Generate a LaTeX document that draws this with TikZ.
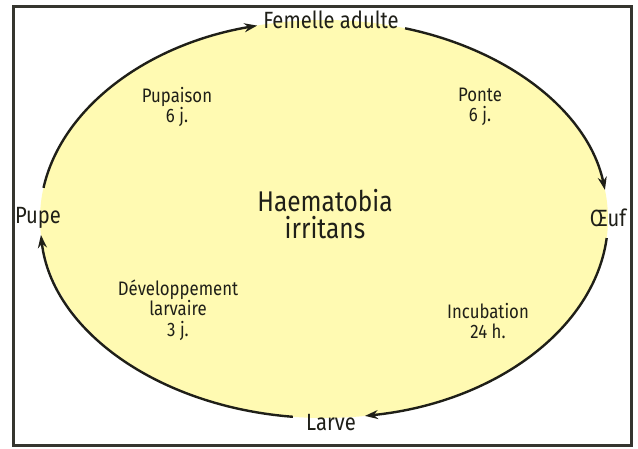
\documentclass[tikz,border=0pt]{standalone}
\usepackage{fontspec}
\setmainfont[FakeStretch=0.86]{Fira Sans}
\usetikzlibrary{arrows.meta,calc}
\definecolor{eggyel}{HTML}{FFFAB2}
\definecolor{ink}{HTML}{1F1F18}
\begin{document}
\begin{tikzpicture}[x=1pt,y=1pt,
  lbl/.style={text=ink,font=\fontsize{19.5}{20.5}\selectfont,align=center,inner sep=0pt},
  stagelbl/.style={text=ink,font=\fontsize{23.5}{24}\selectfont,inner sep=0pt},
  cyc/.style={draw=ink,line width=2.4pt,-{Stealth[length=13pt,width=9pt]}}]
\useasboundingbox (0,0) rectangle (638,448);
\fill[white] (0,0) rectangle (638,448);
\coordinate (C) at (324,229);
\fill[eggyel] (C) ellipse[x radius=284,y radius=199];
\draw[draw=ink!90,line width=3pt] (13,441) rectangle (631,3);
% cycle arcs
\draw[cyc] ($(C)+(171:284 and 199)$) arc[start angle=171,end angle=103.6,x radius=284,y radius=199];
\draw[cyc] ($(C)+(73.4:284 and 199)$) arc[start angle=73.4,end angle=8.4,x radius=284,y radius=199];
\draw[cyc] ($(C)+(-5.5:284 and 199)$) arc[start angle=-5.5,end angle=-81.7,x radius=284,y radius=199];
\draw[cyc] ($(C)+(-96.3:284 and 199)$) arc[start angle=-96.3,end angle=-175.4,x radius=284,y radius=199];
% stage labels
\node[stagelbl] (fem) at (331,428) {Femelle adulte};
\node[stagelbl] (oeuf) at (608,230) {Œuf};
\node[stagelbl] (larve) at (331,25) {Larve};
\node[stagelbl] (pupe) at (38,230) {Pupe};
% centre
\node[lbl,font=\fontsize{28.5}{27}\selectfont] (name) at (325,234) {Haematobia\\irritans};
% durations
\node[lbl] (pup) at (177,341) {Pupaison\\6 j.};
\node[lbl] (pon) at (480,341) {Ponte\\6 j.};
\node[lbl] (dev) at (178,138) {Développement\\larvaire\\3 j.};
\node[lbl] (inc) at (488,127) {Incubation\\24 h.};
\end{tikzpicture}
\end{document}
